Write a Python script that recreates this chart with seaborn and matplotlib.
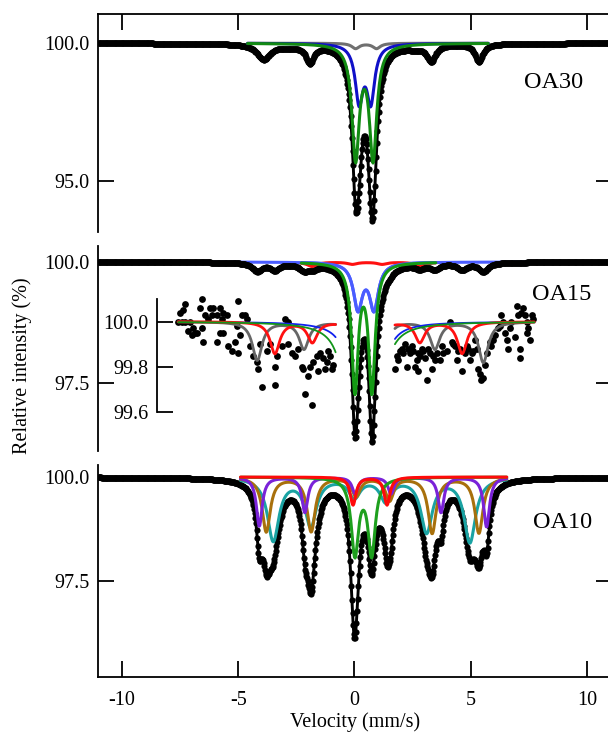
import numpy as np
import pandas as pd
import matplotlib
matplotlib.use("Agg")
import matplotlib.pyplot as plt
import seaborn as sns

# ------------------------------------------------------------------ data
x_ticks = [-10, -5, 0, 5, 10]
x_tick_labels = ["-10", "-5", "0", "5", "10"]
sample_names = ["OA30", "OA15", "OA10"]
x_label = "Velocity (mm/s)"
y_label = "Relative intensity (%)"

# velocity channels of the spectra (mm/s)
v_start, v_stop, n_channels = -11.0, 11.0, 801

# ---- OA30 : fitted sub-spectra (line positions mm/s, depths %, half widths mm/s)
oa30_gray_pos = [0.05, 0.95]
oa30_gray_depth = [0.19, 0.19]
oa30_gray_hw = [0.20, 0.20]
oa30_blue_pos = [0.20, 0.70]
oa30_blue_depth = [2.03, 2.03]
oa30_blue_hw = [0.20, 0.20]
oa30_green_pos = [0.05, 0.80]
oa30_green_depth = [4.10, 4.10]
oa30_green_hw = [0.19, 0.19]
# weak absorption lines present in the OA30 data but not in the fit
oa30_unfit_pos = [-3.90, -2.75, -1.92, 2.55, 3.30, 5.35]
oa30_unfit_depth = [0.55, 0.08, 0.62, 0.10, 0.58, 0.65]
oa30_unfit_hw = [0.35, 0.50, 0.20, 0.50, 0.22, 0.20]
oa30_yticks = [95.0, 100.0]
oa30_yticklabels = ["95.0", "100.0"]
oa30_fit_range = [-4.6, 5.75]

# ---- OA15
oa15_blue_pos = [0.15, 0.84]
oa15_blue_depth = [0.94, 0.94]
oa15_blue_hw = [0.23, 0.23]
oa15_green_pos = [0.02, 0.75]
oa15_green_depth = [2.61, 2.61]
oa15_green_hw = [0.17, 0.17]
oa15_red_pos = [-3.42, -1.81, -0.09, 1.19, 2.81, 4.63]
oa15_red_depth = [0.14, 0.09, 0.045, 0.045, 0.09, 0.14]
oa15_red_hw = [0.25, 0.25, 0.25, 0.25, 0.25, 0.25]
oa15_gray_pos = [-4.18, -2.17, -0.09, 1.45, 3.46, 5.54]
oa15_gray_depth = [0.17, 0.12, 0.06, 0.06, 0.12, 0.18]
oa15_gray_hw = [0.25, 0.25, 0.25, 0.25, 0.25, 0.25]
oa15_yticks = [97.5, 100.0]
oa15_yticklabels = ["97.5", "100.0"]
oa15_center_range = [-2.3, 3.5]
# magnified view (inset) of the OA15 wings
oa15_inset_yticks = [99.6, 99.8, 100.0]
oa15_inset_yticklabels = ["99.6", "99.8", "100.0"]
oa15_inset_ranges = [[-7.58, -0.81], [1.74, 7.73]]
oa15_inset_left_v = [-7.57, -7.50, -7.43, -7.38, -7.28, -7.28, -7.14, -7.07, -7.00, -6.93,
                     -6.85, -6.78, -6.64, -6.57, -6.57, -6.50, -6.42, -6.28, -6.21, -6.14,
                     -6.07, -5.92, -5.92, -5.78, -5.78, -5.71, -5.64, -5.64, -5.49, -5.42,
                     -5.28, -5.14, -5.06, -4.99, -4.99, -4.92, -4.85, -4.71, -4.63, -4.49,
                     -4.35, -4.20, -4.13, -4.06, -3.99, -3.77, -3.63, -3.42, -3.42, -3.34,
                     -3.13, -2.99, -2.84, -2.84, -2.70, -2.56, -2.41, -2.27, -2.20, -2.13,
                     -1.99, -1.91, -1.84, -1.77, -1.63, -1.56, -1.48, -1.34, -1.27, -1.20,
                     -1.12, -1.05, -0.98, -0.91]
oa15_inset_left_int = [100.00, 100.04, 100.00, 100.05, 100.08, 100.00, 99.96, 100.00, 99.94, 99.97,
                       99.95, 99.95, 100.06, 100.10, 99.97, 99.91, 100.03, 100.01, 100.06, 100.03,
                       100.06, 100.03, 99.91, 100.06, 99.95, 100.01, 100.04, 99.95, 100.03, 99.89,
                       99.87, 99.91, 99.98, 100.09, 99.86, 99.94, 100.03, 100.03, 100.01, 99.89,
                       99.85, 99.82, 99.79, 99.90, 99.71, 99.87, 99.90, 99.72, 99.80, 99.85,
                       99.89, 100.01, 100.00, 99.90, 99.86, 99.85, 99.88, 99.80, 99.79, 99.68,
                       99.76, 99.80, 99.63, 99.82, 99.85, 99.78, 99.86, 99.84, 99.79, 99.82,
                       99.87, 99.85, 99.79, 99.81]
oa15_inset_right_v = [1.74, 1.81, 1.88, 1.96, 2.03, 2.10, 2.17, 2.24, 2.31, 2.39,
                      2.46, 2.53, 2.60, 2.67, 2.74, 2.74, 2.81, 2.89, 2.96, 3.03,
                      3.10, 3.17, 3.24, 3.32, 3.39, 3.46, 3.53, 3.67, 3.75, 3.82,
                      3.96, 4.10, 4.18, 4.25, 4.32, 4.39, 4.46, 4.53, 4.61, 4.75,
                      4.82, 4.89, 4.96, 5.04, 5.11, 5.18, 5.25, 5.32, 5.39, 5.46,
                      5.54, 5.61, 5.68, 5.82, 5.89, 5.97, 6.04, 6.18, 6.25, 6.32,
                      6.40, 6.47, 6.54, 6.61, 6.68, 6.75, 6.90, 6.97, 7.04, 7.11,
                      7.11, 7.18, 7.26, 7.33, 7.40, 7.40, 7.47, 7.54, 7.61, 7.68]
oa15_inset_right_int = [99.79, 99.85, 99.83, 99.87, 99.88, 99.86, 99.90, 99.80, 99.88, 99.86,
                        99.89, 99.87, 99.80, 99.83, 99.78, 99.86, 99.85, 99.88, 99.87, 99.84,
                        99.74, 99.88, 99.86, 99.79, 99.85, 99.83, 99.86, 99.83, 99.89, 99.86,
                        99.87, 100.00, 99.91, 99.90, 99.89, 99.83, 99.87, 99.88, 99.78, 99.86,
                        99.89, 99.88, 99.83, 99.86, 99.87, 99.92, 99.88, 99.79, 99.77, 99.74,
                        99.75, 99.81, 99.86, 99.91, 99.89, 99.92, 99.94, 99.97, 99.98, 100.03,
                        100.00, 99.95, 99.92, 99.88, 99.97, 100.00, 99.93, 100.07, 100.03, 99.88,
                        99.84, 100.04, 100.06, 100.03, 100.00, 99.95, 99.97, 99.92, 100.03, 100.01]

# ---- OA10
oa10_red_pos = [-0.06, 1.40]
oa10_red_depth = [0.67, 0.67]
oa10_red_hw = [0.15, 0.15]
oa10_green_pos = [0.02, 0.74]
oa10_green_depth = [1.83, 1.83]
oa10_green_hw = [0.19, 0.19]
oa10_purple_pos = [-4.09, -2.13, 0.03, 1.57, 3.72, 5.68]
oa10_purple_depth = [1.18, 0.85, 0.40, 0.40, 0.85, 1.20]
oa10_purple_hw = [0.15, 0.15, 0.15, 0.15, 0.15, 0.15]
oa10_brown_pos = [-3.79, -1.86, 0.07, 1.51, 3.34, 5.35]
oa10_brown_depth = [1.31, 1.30, 0.45, 0.55, 1.34, 1.34]
oa10_brown_hw = [0.21, 0.21, 0.21, 0.21, 0.21, 0.21]
oa10_cyan_pos = [-3.49, -1.88, 0.00, 1.35, 3.10, 4.96]
oa10_cyan_depth = [1.51, 1.15, 0.45, 0.55, 1.30, 1.55]
oa10_cyan_hw = [0.30, 0.30, 0.30, 0.30, 0.30, 0.30]
oa10_yticks = [97.5, 100.0]
oa10_yticklabels = ["97.5", "100.0"]
oa10_fit_range = [-4.9, 6.55]


# ------------------------------------------------------------------ helpers
def absorption(v, pos, depth, hw):
    v = np.asarray(v, dtype=float)
    out = np.zeros_like(v)
    for p, d, w in zip(pos, depth, hw):
        out += d / (1.0 + ((v - p) / w) ** 2)
    return out


def spectrum(v, *components):
    return 100.0 - sum(absorption(v, *c) for c in components)


sns.set_theme(style="white")
plt.rcParams.update({
    "font.family": ["Liberation Serif", "DejaVu Serif"],
    "axes.edgecolor": "black",
    "axes.linewidth": 1.3,
    "xtick.color": "black",
    "ytick.color": "black",
    "text.color": "black",
    "axes.facecolor": "white",
    "figure.facecolor": "white",
})

W, H = 608, 735
TICK_FS = 14.5
NAME_FS = 17.5
COMP_LW = 2.2


def rect(l, t, r, b):
    return [l / W, 1 - b / H, (r - l) / W, (b - t) / H]


fig = plt.figure(figsize=(W / 100, H / 100), dpi=100)

L_PX, R_PX = 98.3, 612.0
XLIM = (-11.01, 11.07)
PX_PER_V = (R_PX - L_PX) / (XLIM[1] - XLIM[0])

ax_top = fig.add_axes(rect(L_PX, 14, R_PX, 232))
ax_mid = fig.add_axes(rect(L_PX, 246, R_PX, 451))
ax_bot = fig.add_axes(rect(L_PX, 465, R_PX, 677))

v = np.linspace(v_start, v_stop, n_channels)


def style(ax, ylim, yticks, ylabels, xpos):
    ax.set_xlim(*XLIM)
    ax.set_ylim(*ylim)
    ax.set_yticks(yticks)
    ax.set_yticklabels(ylabels)
    ax.set_xlabel("")
    ax.set_ylabel("")
    ax.tick_params(axis="y", direction="in", length=11.5, width=1.3,
                   left=True, right=True, labelleft=True, labelright=False,
                   labelsize=TICK_FS, pad=6.5)
    ax.set_xticks(x_ticks)
    if xpos == "top":
        ax.tick_params(axis="x", direction="in", length=11.5, width=1.3,
                       top=True, bottom=False, labeltop=False, labelbottom=False)
        ax.spines["bottom"].set_visible(False)
    elif xpos == "bottom":
        ax.set_xticklabels(x_tick_labels)
        ax.tick_params(axis="x", direction="in", length=11.5, width=1.3,
                       top=False, bottom=True, labelbottom=True, labelsize=TICK_FS, pad=10)
        ax.spines["top"].set_visible(False)
    else:
        ax.tick_params(axis="x", top=False, bottom=False, labeltop=False, labelbottom=False)
        ax.spines["top"].set_visible(False)
        ax.spines["bottom"].set_visible(False)
    for s in ["left", "right"]:
        ax.spines[s].set_visible(True)
    ax.patch.set_alpha(0)


def draw_line(ax, x, y, color, lw, z):
    sns.lineplot(x=x, y=y, ax=ax, color=color, linewidth=lw, zorder=z, legend=False,
                 estimator=None, sort=False)


def draw_data(ax, x, y, z=3, ms=20):
    draw_line(ax, x, y, "black", 2.1, z)
    sns.scatterplot(x=x, y=y, ax=ax, color="black", s=ms, linewidth=0, zorder=z,
                    legend=False)


# ---------------- OA30
c30_gray = (oa30_gray_pos, oa30_gray_depth, oa30_gray_hw)
c30_blue = (oa30_blue_pos, oa30_blue_depth, oa30_blue_hw)
c30_green = (oa30_green_pos, oa30_green_depth, oa30_green_hw)
c30_unfit = (oa30_unfit_pos, oa30_unfit_depth, oa30_unfit_hw)
data30 = spectrum(v, c30_gray, c30_blue, c30_green, c30_unfit)
draw_data(ax_top, v, data30)
vf = v[(v >= oa30_fit_range[0]) & (v <= oa30_fit_range[1])]
draw_line(ax_top, vf, spectrum(vf, c30_gray), "#707070", COMP_LW, 4)
draw_line(ax_top, vf, spectrum(vf, c30_blue), "#1010c8", COMP_LW, 5)
draw_line(ax_top, vf, spectrum(vf, c30_green), "#128a12", COMP_LW, 6)
style(ax_top, (93.15, 101.06), oa30_yticks, oa30_yticklabels, "top")

# ---------------- OA15
c15_blue = (oa15_blue_pos, oa15_blue_depth, oa15_blue_hw)
c15_green = (oa15_green_pos, oa15_green_depth, oa15_green_hw)
c15_red = (oa15_red_pos, oa15_red_depth, oa15_red_hw)
c15_gray = (oa15_gray_pos, oa15_gray_depth, oa15_gray_hw)
data15 = spectrum(v, c15_blue, c15_green, c15_red, c15_gray)
draw_line(ax_mid, v, spectrum(v, c15_blue), "#4a5cff", COMP_LW, 2)
vc = v[(v >= oa15_center_range[0]) & (v <= oa15_center_range[1])]
draw_line(ax_mid, vc, spectrum(vc, c15_red), "#ff1010", COMP_LW, 2)
draw_data(ax_mid, v, data15)
draw_line(ax_mid, vc, spectrum(vc, c15_blue), "#4a5cff", COMP_LW, 4)
draw_line(ax_mid, vc, spectrum(vc, c15_green), "#149a14", COMP_LW, 5)
style(ax_mid, (96.095, 100.33), oa15_yticks, oa15_yticklabels, "none")

# inset
IN_L = 157.3
ax_in = fig.add_axes(rect(IN_L, 299, R_PX, 412))
ax_in.set_xlim(XLIM[0] + (IN_L - L_PX) / PX_PER_V, XLIM[1])
for lo, hi in oa15_inset_ranges:
    vi = np.linspace(lo, hi, 300)
    draw_line(ax_in, vi, spectrum(vi, c15_gray), "#666666", 2.0, 3)
    draw_line(ax_in, vi, spectrum(vi, c15_blue), "#1020ee", 1.3, 4)
    draw_line(ax_in, vi, spectrum(vi, c15_red), "#ff1010", 2.0, 5)
    draw_line(ax_in, vi, spectrum(vi, c15_green), "#12961a", 1.3, 6)
inset_df = pd.DataFrame({
    "v": oa15_inset_left_v + oa15_inset_right_v,
    "I": oa15_inset_left_int + oa15_inset_right_int,
})
sns.scatterplot(data=inset_df, x="v", y="I", ax=ax_in, color="black", s=24,
                linewidth=0, zorder=2, legend=False, clip_on=False)
ax_in.set_ylim(99.6, 100.10)
ax_in.set_yticks(oa15_inset_yticks)
ax_in.set_yticklabels(oa15_inset_yticklabels)
ax_in.set_xlabel("")
ax_in.set_ylabel("")
ax_in.tick_params(axis="y", direction="in", length=11.5, width=1.3, left=True, right=False,
                  labelsize=TICK_FS, pad=6.5)
ax_in.tick_params(axis="x", bottom=False, top=False, labelbottom=False)
for s in ["top", "right", "bottom"]:
    ax_in.spines[s].set_visible(False)
ax_in.patch.set_alpha(0)

# ---------------- OA10
c10_red = (oa10_red_pos, oa10_red_depth, oa10_red_hw)
c10_green = (oa10_green_pos, oa10_green_depth, oa10_green_hw)
c10_purple = (oa10_purple_pos, oa10_purple_depth, oa10_purple_hw)
c10_brown = (oa10_brown_pos, oa10_brown_depth, oa10_brown_hw)
c10_cyan = (oa10_cyan_pos, oa10_cyan_depth, oa10_cyan_hw)
data10 = spectrum(v, c10_red, c10_green, c10_purple, c10_brown, c10_cyan)
draw_data(ax_bot, v, data10)
vb = v[(v >= oa10_fit_range[0]) & (v <= oa10_fit_range[1])]
draw_line(ax_bot, vb, spectrum(vb, c10_cyan), "#1aa3a3", COMP_LW, 4)
draw_line(ax_bot, vb, spectrum(vb, c10_brown), "#a8700c", COMP_LW, 5)
draw_line(ax_bot, vb, spectrum(vb, c10_purple), "#7a22d8", COMP_LW, 6)
draw_line(ax_bot, vb, spectrum(vb, c10_green), "#1ea01e", COMP_LW, 7)
draw_line(ax_bot, vb, spectrum(vb, c10_red), "#ff0a0a", COMP_LW, 8)
style(ax_bot, (95.19, 100.29), oa10_yticks, oa10_yticklabels, "bottom")

# ---------------- texts
for name, (xp, yp) in zip(sample_names, [(554, 82), (562, 295), (563, 523)]):
    fig.text(xp / W, 1 - yp / H, name, ha="center", va="center", fontsize=NAME_FS)
fig.text(355 / W, 1 - 722 / H, x_label, ha="center", va="center", fontsize=TICK_FS)
fig.text(22 / W, 1 - 366 / H, y_label, ha="center", va="center", rotation=90,
         fontsize=TICK_FS)

fig.savefig("out.png", dpi=100)
